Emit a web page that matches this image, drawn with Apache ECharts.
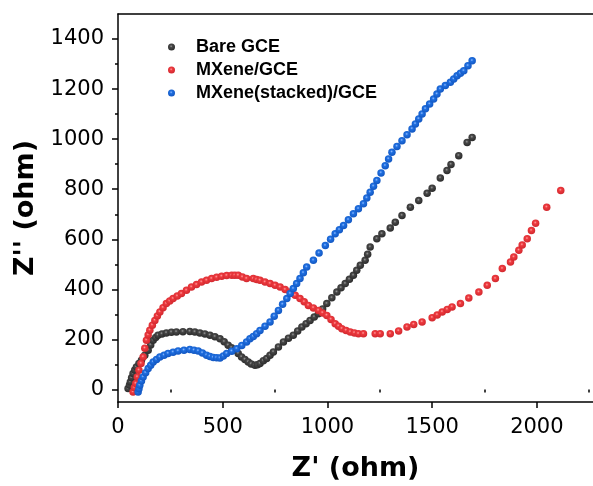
<!DOCTYPE html>
<html>
<head>
<meta charset="utf-8">
<script src="https://cdn.jsdelivr.net/npm/echarts@6/dist/echarts.min.js"></script>
<style>
  html, body { margin: 0; padding: 0; background: #fff; }
  #chart { width: 593px; height: 486px; }
</style>
</head>
<body>
<div id="chart"></div>
<script>
// tick values
var xTicks = [0, 500, 1000, 1500, 2000];
var xMinor = [250, 750, 1250, 1750, 2250];
var yTicks = [0, 200, 400, 600, 800, 1000, 1200, 1400];
var yMinor = [100, 300, 500, 700, 900, 1100, 1300];

var seriesNames = ['Bare GCE', 'MXene/GCE', 'MXene(stacked)/GCE'];

// [Z', Z'']
var bareGCE = [
  [48, 4], [55, 18], [59, 30], [65, 47], [72, 64], [80, 78], [88, 90], [100, 104], [112, 117],
  [128, 137], [144, 157], [156, 178], [168, 197], [180, 208], [191, 217], [210, 222], [231, 226],
  [255, 229], [279, 230], [310, 231], [343, 232], [367, 230], [391, 226], [415, 222], [439, 217],
  [463, 211], [487, 203], [507, 191], [526, 177], [542, 167], [558, 157], [574, 144], [590, 130],
  [606, 120], [622, 110], [636, 102], [654, 97], [666, 99], [678, 104], [694, 115], [710, 124],
  [726, 137], [742, 150], [766, 170], [790, 190], [814, 205], [837, 217], [858, 234], [878, 250],
  [898, 263], [917, 276], [937, 290], [957, 303], [977, 322], [997, 343], [1021, 366], [1045, 389],
  [1065, 406], [1085, 423], [1105, 440], [1124, 456], [1140, 476], [1157, 496], [1180, 516],
  [1192, 540], [1204, 569], [1236, 602], [1260, 622], [1300, 645], [1324, 668], [1356, 695],
  [1396, 728], [1436, 755], [1476, 784], [1500, 804], [1539, 845], [1571, 875], [1590, 899],
  [1627, 934], [1667, 987], [1691, 1007]
];

var mxeneGCE = [
  [72, -10], [78, 8], [85, 24], [92, 50], [100, 77], [110, 104], [120, 130], [128, 165], [136, 197],
  [144, 218], [152, 237], [164, 257], [176, 276], [188, 294], [200, 310], [215, 327], [231, 343],
  [247, 353], [263, 363], [283, 373], [303, 383], [327, 396], [351, 409], [375, 419], [399, 429],
  [423, 436], [447, 443], [471, 448], [495, 452], [519, 455], [543, 456], [558, 456], [574, 456],
  [594, 449], [614, 443], [646, 443], [662, 439], [678, 436], [702, 429], [726, 423], [750, 416],
  [774, 409], [798, 399], [822, 389], [846, 376], [869, 363], [889, 350], [909, 336], [933, 326],
  [957, 316], [977, 306], [997, 296], [1017, 280], [1037, 263], [1053, 253], [1069, 243],
  [1089, 236], [1109, 230], [1129, 226], [1148, 223], [1172, 223], [1228, 223], [1252, 223],
  [1300, 223], [1340, 234], [1380, 250], [1412, 260], [1452, 270], [1500, 287], [1524, 298],
  [1548, 310], [1572, 320], [1595, 330], [1635, 343], [1675, 365], [1723, 389], [1763, 416],
  [1802, 443], [1835, 483], [1874, 509], [1890, 529], [1914, 556], [1930, 577], [1954, 602],
  [1974, 635], [1994, 664], [2047, 728], [2114, 795]
];

var mxeneStacked = [
  [96, -10], [100, 3], [104, 17], [112, 34], [120, 50], [132, 67], [144, 84], [156, 97], [168, 110],
  [184, 120], [200, 130], [220, 137], [239, 144], [263, 149], [287, 154], [315, 157], [343, 160],
  [363, 157], [383, 154], [403, 146], [423, 137], [439, 132], [455, 128], [471, 127], [487, 126],
  [503, 134], [519, 144], [543, 153], [567, 163], [591, 176], [614, 190], [630, 203], [646, 212],
  [662, 223], [678, 236], [702, 253], [726, 270], [746, 293], [766, 316], [786, 340], [806, 363],
  [822, 383], [837, 403], [853, 423], [869, 443], [885, 466], [901, 489], [933, 516], [960, 545],
  [990, 575], [1015, 600], [1037, 622], [1057, 638], [1077, 655], [1100, 678], [1124, 702],
  [1148, 722], [1172, 742], [1188, 765], [1204, 788], [1220, 812], [1236, 835], [1256, 865],
  [1276, 894], [1292, 921], [1308, 948], [1332, 971], [1356, 994], [1380, 1018], [1404, 1041],
  [1420, 1061], [1436, 1081], [1452, 1101], [1468, 1121], [1488, 1140], [1507, 1160],
  [1523, 1180], [1539, 1200], [1563, 1214], [1587, 1227], [1603, 1240], [1619, 1253],
  [1635, 1263], [1651, 1273], [1671, 1293], [1691, 1313]
];

// glossy ball look of the markers
function ball(light, base, dark) {
  return new echarts.graphic.RadialGradient(0.45, 0.4, 0.55, [
    { offset: 0, color: light },
    { offset: 0.35, color: base },
    { offset: 1, color: dark }
  ]);
}

var chart = echarts.init(document.getElementById('chart'), null, { renderer: 'canvas' });

var axisLineStyle = { color: '#000', width: 1.5 };
var plainNum = function (v) { return String(v); };
var tickFont = { fontFamily: 'DejaVu Sans', fontSize: 21, color: '#000' };
var titleFont = { fontFamily: 'DejaVu Sans', fontWeight: 'bold', fontSize: 27, color: '#000' };

var option = {
  animation: false,
  backgroundColor: '#fff',
  grid: { left: 118, right: 0, top: 14, bottom: 84, outerBoundsMode: 'none', containLabel: false },
  legend: {
    orient: 'vertical',
    left: 163,
    top: 33,
    itemWidth: 7,
    itemHeight: 7,
    itemGap: 5,
    data: seriesNames,
    textStyle: {
      fontFamily: 'Liberation Sans',
      fontWeight: 'bold',
      fontSize: 18,
      color: '#000',
      padding: [0, 0, 0, 16]
    }
  },
  xAxis: [
    {
      type: 'value',
      min: 0,
      max: 2268,
      position: 'bottom',
      name: "Z' (ohm)",
      nameLocation: 'middle',
      nameGap: 53,
      nameTextStyle: titleFont,
      axisLine: { show: true, onZero: false, lineStyle: axisLineStyle },
      axisTick: { show: true, customValues: xTicks, length: 6, lineStyle: axisLineStyle },
      axisLabel: Object.assign({ customValues: xTicks, margin: 15, formatter: plainNum }, tickFont),
      splitLine: { show: false }
    },
    {
      type: 'value',
      min: 0,
      max: 2268,
      position: 'bottom',
      axisLine: { show: false },
      axisTick: { show: true, customValues: xMinor, length: 3, lineStyle: axisLineStyle },
      axisLabel: { show: false },
      splitLine: { show: false }
    },
    {
      type: 'value',
      min: 0,
      max: 2268,
      position: 'top',
      axisLine: { show: true, onZero: false, lineStyle: axisLineStyle },
      axisTick: { show: false },
      axisLabel: { show: false },
      splitLine: { show: false }
    }
  ],
  yAxis: [
    {
      type: 'value',
      min: -50,
      max: 1500,
      position: 'left',
      name: "Z'' (ohm)",
      nameLocation: 'middle',
      nameGap: 77,
      nameTextStyle: titleFont,
      axisLine: { show: true, onZero: false, lineStyle: axisLineStyle },
      axisTick: { show: true, customValues: yTicks, length: 6, lineStyle: axisLineStyle },
      axisLabel: Object.assign({ customValues: yTicks, margin: 14, formatter: plainNum }, tickFont),
      splitLine: { show: false }
    },
    {
      type: 'value',
      min: -50,
      max: 1500,
      position: 'left',
      axisLine: { show: false },
      axisTick: { show: true, customValues: yMinor, length: 3, lineStyle: axisLineStyle },
      axisLabel: { show: false },
      splitLine: { show: false }
    }
  ],
  series: [
    {
      name: seriesNames[0],
      type: 'scatter',
      symbol: 'circle',
      symbolSize: 7.5,
      data: bareGCE,
      itemStyle: { color: ball('#9a9a9a', '#474747', '#2e2e2e'), opacity: 1 }
    },
    {
      name: seriesNames[1],
      type: 'scatter',
      symbol: 'circle',
      symbolSize: 7.5,
      data: mxeneGCE,
      itemStyle: { color: ball('#ff9e9e', '#ee3a3f', '#d42a30'), opacity: 1 }
    },
    {
      name: seriesNames[2],
      type: 'scatter',
      symbol: 'circle',
      symbolSize: 7.5,
      data: mxeneStacked,
      itemStyle: { color: ball('#8fbaff', '#1f6fe0', '#1459c4'), opacity: 1 }
    }
  ]
};

chart.setOption(option);
</script>
</body>
</html>
